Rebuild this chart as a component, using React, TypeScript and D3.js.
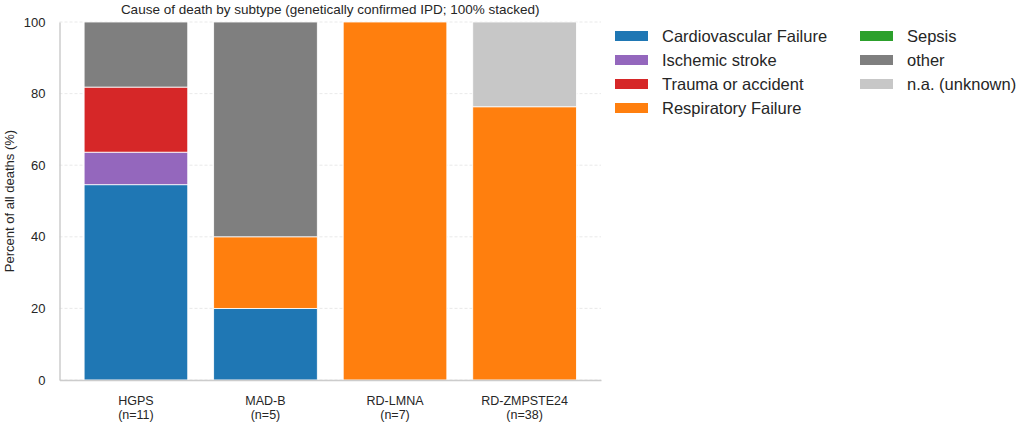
import * as d3 from 'd3';
import { useEffect, useRef } from 'react';

const subtypes = ['HGPS', 'MAD-B', 'RD-LMNA', 'RD-ZMPSTE24'];
const counts = [11, 5, 7, 38];

const causes = [
  'Cardiovascular Failure',
  'Ischemic stroke',
  'Trauma or accident',
  'Respiratory Failure',
  'Sepsis',
  'other',
  'n.a. (unknown)',
];
const causeColors = ['#1f77b4', '#9467bd', '#d62728', '#ff7f0e', '#2ca02c', '#7f7f7f', '#c7c7c7'];

// percent of deaths per subtype, one array per cause (same order as subtypes)
const cardiovascular = [54.55, 20, 0, 0];
const ischemicStroke = [9.09, 0, 0, 0];
const trauma = [18.18, 0, 0, 0];
const respiratory = [0, 20, 100, 76.32];
const sepsis = [0, 0, 0, 0];
const other = [18.18, 60, 0, 0];
const unknown = [0, 0, 0, 23.68];

const yTicks = [0, 20, 40, 60, 80, 100];

const W = 1020;
const H = 425;
const FONT = '"Liberation Sans", Arial, sans-serif';

const App = () => {
  const ref = useRef<SVGSVGElement>(null);

  useEffect(() => {
    const svg = d3.select(ref.current);
    svg.selectAll('*').remove();

    const left = 59.5;
    const right = 601;
    const top = 22;
    const bottom = 380;

    const series = [cardiovascular, ischemicStroke, trauma, respiratory, sepsis, other, unknown];
    const rows = subtypes.map((s, i) => {
      const row: any = { subtype: s };
      causes.forEach((c, j) => (row[c] = series[j][i]));
      return row;
    });
    const stacked = d3.stack().keys(causes)(rows);

    const x = d3.scaleBand().domain(subtypes).range([left, right]).paddingInner(0.2).paddingOuter(0.19);
    const y = d3.scaleLinear().domain([0, 100]).range([bottom, top]);
    const color = d3.scaleOrdinal<string>().domain(causes).range(causeColors);

    // dashed grid
    svg
      .append('g')
      .selectAll('line')
      .data(yTicks)
      .enter()
      .append('line')
      .attr('x1', left)
      .attr('x2', right)
      .attr('y1', (d) => y(d))
      .attr('y2', (d) => y(d))
      .attr('stroke', '#e3e3e3')
      .attr('stroke-width', 0.8)
      .attr('stroke-dasharray', '3,2');

    // bars
    svg
      .append('g')
      .selectAll('g')
      .data(stacked)
      .enter()
      .append('g')
      .attr('fill', (d) => color(d.key))
      .selectAll('rect')
      .data((d) => d)
      .enter()
      .append('rect')
      .attr('x', (d: any) => x(d.data.subtype)!)
      .attr('width', x.bandwidth())
      .attr('y', (d) => y(d[1]))
      .attr('height', (d) => y(d[0]) - y(d[1]))
      .attr('stroke', (d) => (d[1] - d[0] > 0 ? '#ffffff' : 'none'))
      .attr('stroke-width', 0.8);

    // y axis
    const yAxis = svg
      .append('g')
      .attr('transform', `translate(${left},0)`)
      .call(d3.axisLeft(y).tickValues(yTicks).tickSize(0).tickPadding(14));
    yAxis.select('.domain').attr('stroke', '#cccccc').attr('stroke-width', 1.5);
    yAxis.selectAll('text').attr('font-family', FONT).attr('font-size', 13).attr('fill', '#262626');

    // x axis
    const xAxis = svg
      .append('g')
      .attr('transform', `translate(0,${bottom})`)
      .call(d3.axisBottom(x).tickSize(0).tickFormat(() => ''));
    xAxis.select('.domain').attr('stroke', '#cccccc').attr('stroke-width', 1.5);
    xAxis.selectAll('.tick text').remove();
    xAxis
      .selectAll('.tick')
      .data(subtypes)
      .append('text')
      .attr('text-anchor', 'middle')
      .attr('font-family', FONT)
      .attr('font-size', 12.5)
      .attr('fill', '#262626')
      .each(function (d, i) {
        const t = d3.select(this);
        t.append('tspan').attr('x', 0).attr('y', 25).text(d);
        t.append('tspan').attr('x', 0).attr('y', 39).text(`(n=${counts[i]})`);
      });

    // titles
    svg
      .append('text')
      .attr('x', (left + right) / 2)
      .attr('y', 14)
      .attr('text-anchor', 'middle')
      .attr('font-family', FONT)
      .attr('font-size', 13.5)
      .attr('fill', '#262626')
      .text('Cause of death by subtype (genetically confirmed IPD; 100% stacked)');

    svg
      .append('text')
      .attr('transform', `translate(14,${(top + bottom) / 2}) rotate(-90)`)
      .attr('text-anchor', 'middle')
      .attr('font-family', FONT)
      .attr('font-size', 13)
      .attr('fill', '#262626')
      .text('Percent of all deaths (%)');

    // legend, two columns
    const legend = svg.append('g');
    const item = legend
      .selectAll('g')
      .data(causes)
      .enter()
      .append('g')
      .attr('transform', (_, i) => {
        const col = i < 4 ? 0 : 1;
        const row = i < 4 ? i : i - 4;
        return `translate(${col === 0 ? 615 : 860},${36 + row * 24})`;
      });
    item
      .append('rect')
      .attr('x', 0)
      .attr('y', -5)
      .attr('width', 33)
      .attr('height', 10)
      .attr('fill', (d) => color(d));
    item
      .append('text')
      .attr('x', 47)
      .attr('y', 0)
      .attr('dy', '0.35em')
      .attr('font-family', FONT)
      .attr('font-size', 16.5)
      .attr('fill', '#262626')
      .text((d) => d);
  }, []);

  return <svg ref={ref} width={W} height={H} style={{ position: 'absolute', left: 0, top: 0 }} />;
};

export default App;
